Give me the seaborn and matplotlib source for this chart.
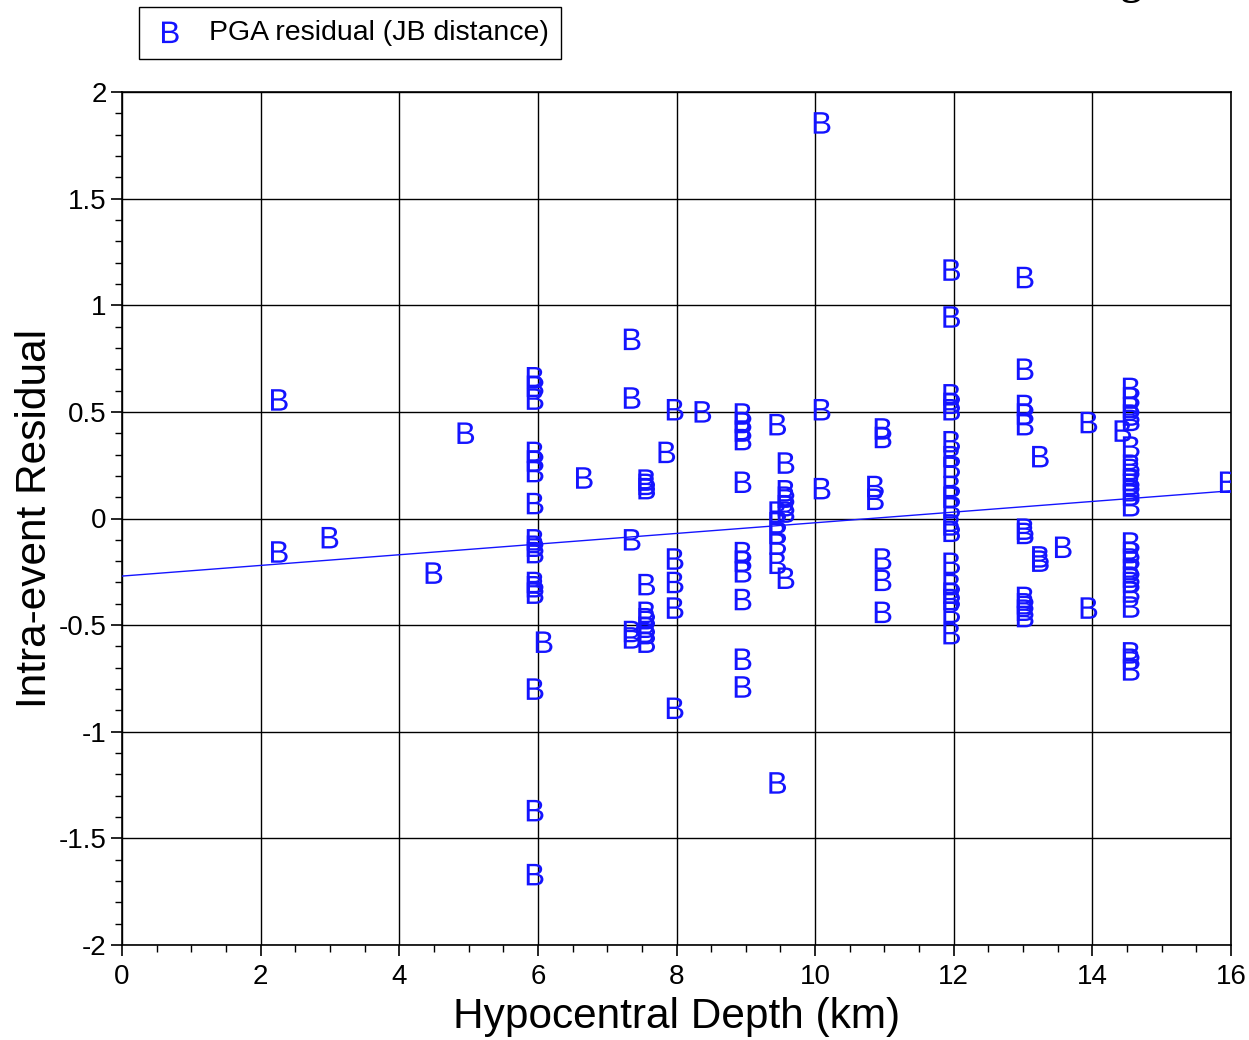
import matplotlib
matplotlib.use("Agg")
import matplotlib.pyplot as plt
import seaborn as sns
import numpy as np
import pandas as pd
from matplotlib.ticker import MultipleLocator, FixedLocator, FixedFormatter

# ---------------- data ----------------
depth = (
    [2.27, 2.27, 3.0, 4.5, 4.96]
    + [5.96] * 16
    + [6.09, 6.67]
    + [7.36] * 5
    + [7.57] * 9
    + [7.86]
    + [7.98] * 5
    + [8.38]
    + [8.96] * 11
    + [9.46] * 7
    + [9.58] * 6
    + [10.1] * 3
    + [10.87] * 2
    + [10.98] * 5
    + [11.97] * 19
    + [13.03] * 11
    + [13.25] * 3
    + [13.58]
    + [13.95] * 2
    + [14.44]
    + [14.56] * 24
    + [15.96]
)
residual = (
    [0.556, -0.157, -0.09, -0.256, 0.40]
    + [0.66, 0.62, 0.56, 0.31, 0.27, 0.22, 0.07, -0.10, -0.13, -0.16,
       -0.30, -0.32, -0.35, -0.80, -1.37, -1.67]
    + [-0.58, 0.19]
    + [0.84, 0.565, -0.10, -0.53, -0.56]
    + [0.18, 0.16, 0.14, -0.31, -0.44, -0.47, -0.51, -0.54, -0.58]
    + [0.31]
    + [0.51, -0.19, -0.30, -0.42, -0.89]
    + [0.50]
    + [0.49, 0.45, 0.41, 0.37, 0.17, -0.16, -0.20, -0.25, -0.38, -0.66, -0.79]
    + [0.44, 0.03, -0.02, -0.07, -0.12, -0.21, -1.24]
    + [0.26, 0.13, 0.10, 0.06, 0.03, -0.28]
    + [1.855, 0.51, 0.14]
    + [0.15, 0.09]
    + [0.42, 0.38, -0.19, -0.29, -0.44]
    + [1.165, 0.945, 0.58, 0.54, 0.51, 0.36, 0.29, 0.24, 0.15, 0.10, 0.05,
       -0.03, -0.06, -0.21, -0.31, -0.35, -0.38, -0.44, -0.54]
    + [1.13, 0.70, 0.53, 0.49, 0.44, -0.05, -0.07, -0.37, -0.40, -0.43, -0.46]
    + [0.29, -0.18, -0.20]
    + [-0.135]
    + [0.45, -0.42]
    + [0.41]
    + [0.61, 0.565, 0.52, 0.485, 0.46, 0.335, 0.25, 0.23, 0.18, 0.16, 0.13,
       0.11, 0.06, -0.115, -0.16, -0.19, -0.24, -0.275, -0.30, -0.345, -0.415,
       -0.63, -0.66, -0.71]
    + [0.17]
)

fit_x = [0, 16]
fit_y = [-0.27, 0.13]

x_ticks = [0, 2, 4, 6, 8, 10, 12, 14, 16]
x_labels = ["0", "2", "4", "6", "8", "10", "12", "14", "16"]
y_ticks = [-2, -1.5, -1, -0.5, 0, 0.5, 1, 1.5, 2]
y_labels = ["-2", "-1.5", "-1", "-0.5", "0", "0.5", "1", "1.5", "2"]

series_label = "PGA residual (JB distance)"
x_title = "Hypocentral Depth (km)"
y_title = "Intra-event Residual"

# ---------------- style ----------------
sns.set_theme(style="white")
plt.rcParams["font.family"] = ["Liberation Sans", "DejaVu Sans"]
plt.rcParams["axes.unicode_minus"] = False
plt.rcParams["text.color"] = "black"
plt.rcParams["mathtext.fontset"] = "custom"
plt.rcParams["mathtext.rm"] = "Liberation Sans"
plt.rcParams["mathtext.sf"] = "Liberation Sans"

BLUE = "#1414ff"

df = pd.DataFrame({"depth": depth, "residual": residual})
fit_df = pd.DataFrame({"x": fit_x, "y": fit_y})

fig = plt.figure(figsize=(12.49, 10.40), dpi=100)
ax = fig.add_axes([122 / 1249, 1 - 945 / 1040, (1231 - 122) / 1249, (945 - 92) / 1040])

sns.lineplot(data=fit_df, x="x", y="y", ax=ax, color=BLUE, linewidth=1.0,
             legend=False, zorder=3)
sns.scatterplot(data=df, x="depth", y="residual", ax=ax, marker=r"$\mathrm{B}$",
                s=240, color=BLUE, edgecolor="none", linewidth=0,
                label=series_label, zorder=4)

ax.set_xlim(0, 16)
ax.set_ylim(-2, 2)
ax.xaxis.set_major_locator(FixedLocator(x_ticks))
ax.xaxis.set_major_formatter(FixedFormatter(x_labels))
ax.yaxis.set_major_locator(FixedLocator(y_ticks))
ax.yaxis.set_major_formatter(FixedFormatter(y_labels))
ax.xaxis.set_minor_locator(MultipleLocator(0.5))
ax.yaxis.set_minor_locator(MultipleLocator(0.1))

ax.grid(True, which="major", color="black", linewidth=1.0)
ax.set_axisbelow(True)
for sp in ax.spines.values():
    sp.set_color("black")
    sp.set_linewidth(1.2)
    sp.set_visible(True)

ax.tick_params(axis="both", which="major", direction="out", length=8, width=1.2,
               color="black", labelsize=20, labelcolor="black", pad=3,
               bottom=True, left=True, top=False, right=False)
ax.tick_params(axis="x", which="major", pad=6)
ax.tick_params(axis="both", which="minor", direction="out", length=5, width=1.0,
               color="black", bottom=True, left=True, top=False, right=False)

ax.set_xlabel(x_title, fontsize=30.5, color="black", labelpad=5)
ax.set_ylabel(y_title, fontsize=30.5, color="black", labelpad=3)

leg = ax.legend(loc="upper left", bbox_to_anchor=(139 / 1249, 1 - 7 / 1040),
                bbox_transform=fig.transFigure, frameon=True, fancybox=False,
                fontsize=20.5, markerscale=1.0, handletextpad=0.7,
                borderpad=0.45, borderaxespad=0, handlelength=1.3,
                labelcolor="black")
leg.get_frame().set_edgecolor("black")
leg.get_frame().set_linewidth(1.0)
leg.get_frame().set_facecolor("white")
leg.get_frame().set_alpha(1)

# partially visible title descender at the top edge (cut off in the reference too)
fig.text(1131 / 1249, 1 + 6 / 1040, "g", ha="center", va="baseline",
         fontsize=30, fontweight="bold", family="Liberation Serif", color="black")

fig.savefig("out.png", dpi=100, facecolor="white")
